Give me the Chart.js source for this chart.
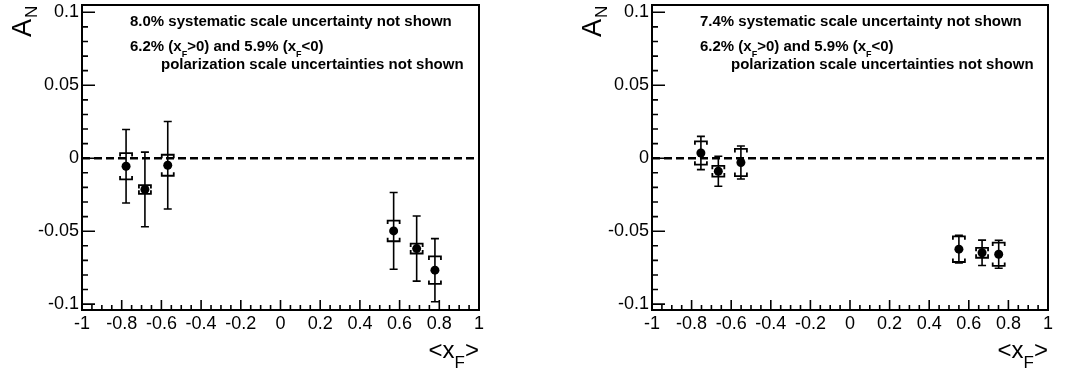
<!DOCTYPE html>
<html>
<head>
<meta charset="utf-8">
<script src="https://cdn.jsdelivr.net/npm/chart.js@4/dist/chart.umd.min.js"></script>
<style>
    html, body { margin: 0; padding: 0; background: #fff; }
    #wrap { position: relative; width: 1071px; height: 373px; }
    canvas { position: absolute; top: 0; }
</style>
</head>
<body>
<div id="wrap">
    <canvas id="leftChart" width="535" height="373" style="left:0"></canvas>
    <canvas id="rightChart" width="536" height="373" style="left:535px"></canvas>
</div>
<script>
// tick labels
const xTickValues = [-1, -0.8, -0.6, -0.4, -0.2, 0, 0.2, 0.4, 0.6, 0.8, 1];
const xTickLabels = ["-1", "-0.8", "-0.6", "-0.4", "-0.2", "0", "0.2", "0.4", "0.6", "0.8", "1"];
const yTickValues = [-0.1, -0.05, 0, 0.05, 0.1];
const yTickLabels = ["-0.1", "-0.05", "0", "0.05", "0.1"];

// left panel
const leftXF = [-0.778, -0.683, -0.568, 0.570, 0.686, 0.778];
const leftAN = [-0.0055, -0.0214, -0.0048, -0.0498, -0.0619, -0.0767];
const leftStat = [0.0252, 0.0256, 0.0300, 0.0263, 0.0223, 0.0216];
const leftSys = [0.0090, 0.0030, 0.0072, 0.0071, 0.0034, 0.0094];
const leftNote = "8.0% systematic scale uncertainty not shown";

// right panel
const rightXF = [-0.753, -0.665, -0.551, 0.550, 0.667, 0.751];
const rightAN = [0.0036, -0.0089, -0.0029, -0.0623, -0.0648, -0.0658];
const rightStat = [0.0114, 0.0103, 0.0113, 0.0095, 0.0087, 0.0096];
const rightSys = [0.0080, 0.0037, 0.0093, 0.0088, 0.0034, 0.0080];
const rightNote = "7.4% systematic scale uncertainty not shown";

const polLine = [["6.2% (x", false], ["F", true], [">0) and 5.9% (x", false], ["F", true], ["<0)", false]];
const polLine2 = "polarization scale uncertainties not shown";

const FONT = "'Liberation Sans', Arial, Helvetica, sans-serif";

const rootStyle = {
    id: "rootStyle",
    beforeDatasetsDraw(chart, args, opts) {
        const ctx = chart.ctx;
        const xs = chart.scales.x;
        const ys = chart.scales.y;
        const pts = chart.data.datasets[1].data;
        ctx.save();
        ctx.strokeStyle = "#000";
        pts.forEach((p, i) => {
            const px = xs.getPixelForValue(p.x);
            const top = ys.getPixelForValue(p.y + opts.stat[i]);
            const bot = ys.getPixelForValue(p.y - opts.stat[i]);
            ctx.lineWidth = 1.6;
            ctx.beginPath();
            ctx.moveTo(px, top);
            ctx.lineTo(px, bot);
            ctx.moveTo(px - 4, top);
            ctx.lineTo(px + 4, top);
            ctx.moveTo(px - 4, bot);
            ctx.lineTo(px + 4, bot);
            ctx.stroke();

            const st = ys.getPixelForValue(p.y + opts.sys[i]);
            const sb = ys.getPixelForValue(p.y - opts.sys[i]);
            ctx.lineWidth = 1.8;
            ctx.beginPath();
            ctx.moveTo(px - 6, st + 3.5);
            ctx.lineTo(px - 6, st);
            ctx.lineTo(px + 6, st);
            ctx.lineTo(px + 6, st + 3.5);
            ctx.moveTo(px - 6, sb - 3.5);
            ctx.lineTo(px - 6, sb);
            ctx.lineTo(px + 6, sb);
            ctx.lineTo(px + 6, sb - 3.5);
            ctx.stroke();
        });
        ctx.restore();
    },
    afterDraw(chart, args, opts) {
        const ctx = chart.ctx;
        const a = chart.chartArea;
        const xs = chart.scales.x;
        const ys = chart.scales.y;
        ctx.save();
        ctx.strokeStyle = "#000";
        ctx.fillStyle = "#000";
        ctx.lineWidth = 2;
        ctx.strokeRect(a.left, a.top, a.right - a.left, a.bottom - a.top);

        // inward ticks
        ctx.lineWidth = 1.6;
        ctx.beginPath();
        for (let k = -10; k <= 10; k++) {
            const y = ys.getPixelForValue(k / 100);
            ctx.moveTo(a.left, y);
            ctx.lineTo(a.left + (k % 5 === 0 ? 13 : 6), y);
        }
        for (let k = -20; k <= 20; k++) {
            const x = xs.getPixelForValue(k / 20);
            ctx.moveTo(x, a.bottom);
            ctx.lineTo(x, a.bottom - (k % 4 === 0 ? 10 : 5));
        }
        ctx.stroke();

        // y title A_N
        ctx.save();
        ctx.translate(a.left - 51, 37);
        ctx.rotate(-Math.PI / 2);
        ctx.font = "27px " + FONT;
        ctx.textBaseline = "alphabetic";
        ctx.fillText("A", 0, 0);
        const wA = ctx.measureText("A").width;
        ctx.font = "17px " + FONT;
        ctx.fillText("N", wA + 1, 6);
        ctx.restore();

        // x title <x_F>
        ctx.font = "24px " + FONT;
        const w1 = ctx.measureText("<x").width;
        const w3 = ctx.measureText(">").width;
        ctx.font = "17px " + FONT;
        const w2 = ctx.measureText("F").width;
        let x0 = a.right - (w1 + w2 + w3);
        ctx.font = "24px " + FONT;
        ctx.fillText("<x", x0, 358);
        ctx.font = "17px " + FONT;
        ctx.fillText("F", x0 + w1, 368);
        ctx.font = "24px " + FONT;
        ctx.fillText(">", x0 + w1 + w2, 358);

        // notes
        ctx.font = "bold 15px " + FONT;
        ctx.fillText(opts.note, a.left + 48, 26);
        let nx = a.left + 48;
        polLine.forEach(([t, sub]) => {
            ctx.font = sub ? "bold 9px " + FONT : "bold 15px " + FONT;
            ctx.fillText(t, nx, sub ? 57 : 51);
            nx += ctx.measureText(t).width;
        });
        ctx.font = "bold 15px " + FONT;
        ctx.fillText(polLine2, a.left + 79, 69);
        ctx.restore();
    },
};

function makePanel(id, xf, an, stat, sys, note, padLeft, padRight) {
    const tickFont = { family: FONT, size: 18 };
    new Chart(document.getElementById(id), {
        type: "scatter",
        data: {
            datasets: [
                {
                    data: [{ x: -1, y: 0 }, { x: 1, y: 0 }],
                    showLine: true,
                    borderColor: "#000",
                    borderWidth: 2.5,
                    borderDash: [8, 4],
                    pointRadius: 0,
                },
                {
                    data: xf.map((x, i) => ({ x: x, y: an[i] })),
                    pointRadius: 4.5,
                    pointBackgroundColor: "#000",
                    pointBorderColor: "#000",
                    pointBorderWidth: 0,
                },
            ],
        },
        options: {
            responsive: false,
            animation: false,
            events: [],
            layout: { padding: { left: padLeft, right: padRight, top: 5, bottom: 0 } },
            plugins: {
                legend: { display: false },
                tooltip: { enabled: false },
                rootStyle: { stat: stat, sys: sys, note: note },
            },
            scales: {
                x: {
                    type: "linear",
                    min: -1,
                    max: 1,
                    grid: { display: false, drawTicks: false },
                    border: { display: false },
                    afterBuildTicks: (axis) => {
                        axis.ticks = xTickValues.map((v) => ({ value: v }));
                    },
                    afterFit: (s) => {
                        s.height = 63;
                        s.paddingLeft = 0;
                        s.paddingRight = 0;
                    },
                    ticks: {
                        callback: (v, i) => xTickLabels[i],
                        font: tickFont,
                        color: "#000",
                        padding: 3,
                        maxRotation: 0,
                        autoSkip: false,
                    },
                },
                y: {
                    type: "linear",
                    min: -0.104,
                    max: 0.105,
                    grid: { display: false, drawTicks: false },
                    border: { display: false },
                    afterBuildTicks: (axis) => {
                        axis.ticks = yTickValues.map((v) => ({ value: v }));
                    },
                    afterFit: (s) => {
                        s.width = 82;
                        s.paddingTop = 0;
                        s.paddingBottom = 0;
                    },
                    ticks: {
                        callback: (v, i) => yTickLabels[i],
                        font: tickFont,
                        color: "#000",
                        padding: 3,
                        autoSkip: false,
                    },
                },
            },
        },
        plugins: [rootStyle],
    });
}

makePanel("leftChart", leftXF, leftAN, leftStat, leftSys, leftNote, 0, 56);
makePanel("rightChart", rightXF, rightAN, rightStat, rightSys, rightNote, 35, 23);
</script>
</body>
</html>
